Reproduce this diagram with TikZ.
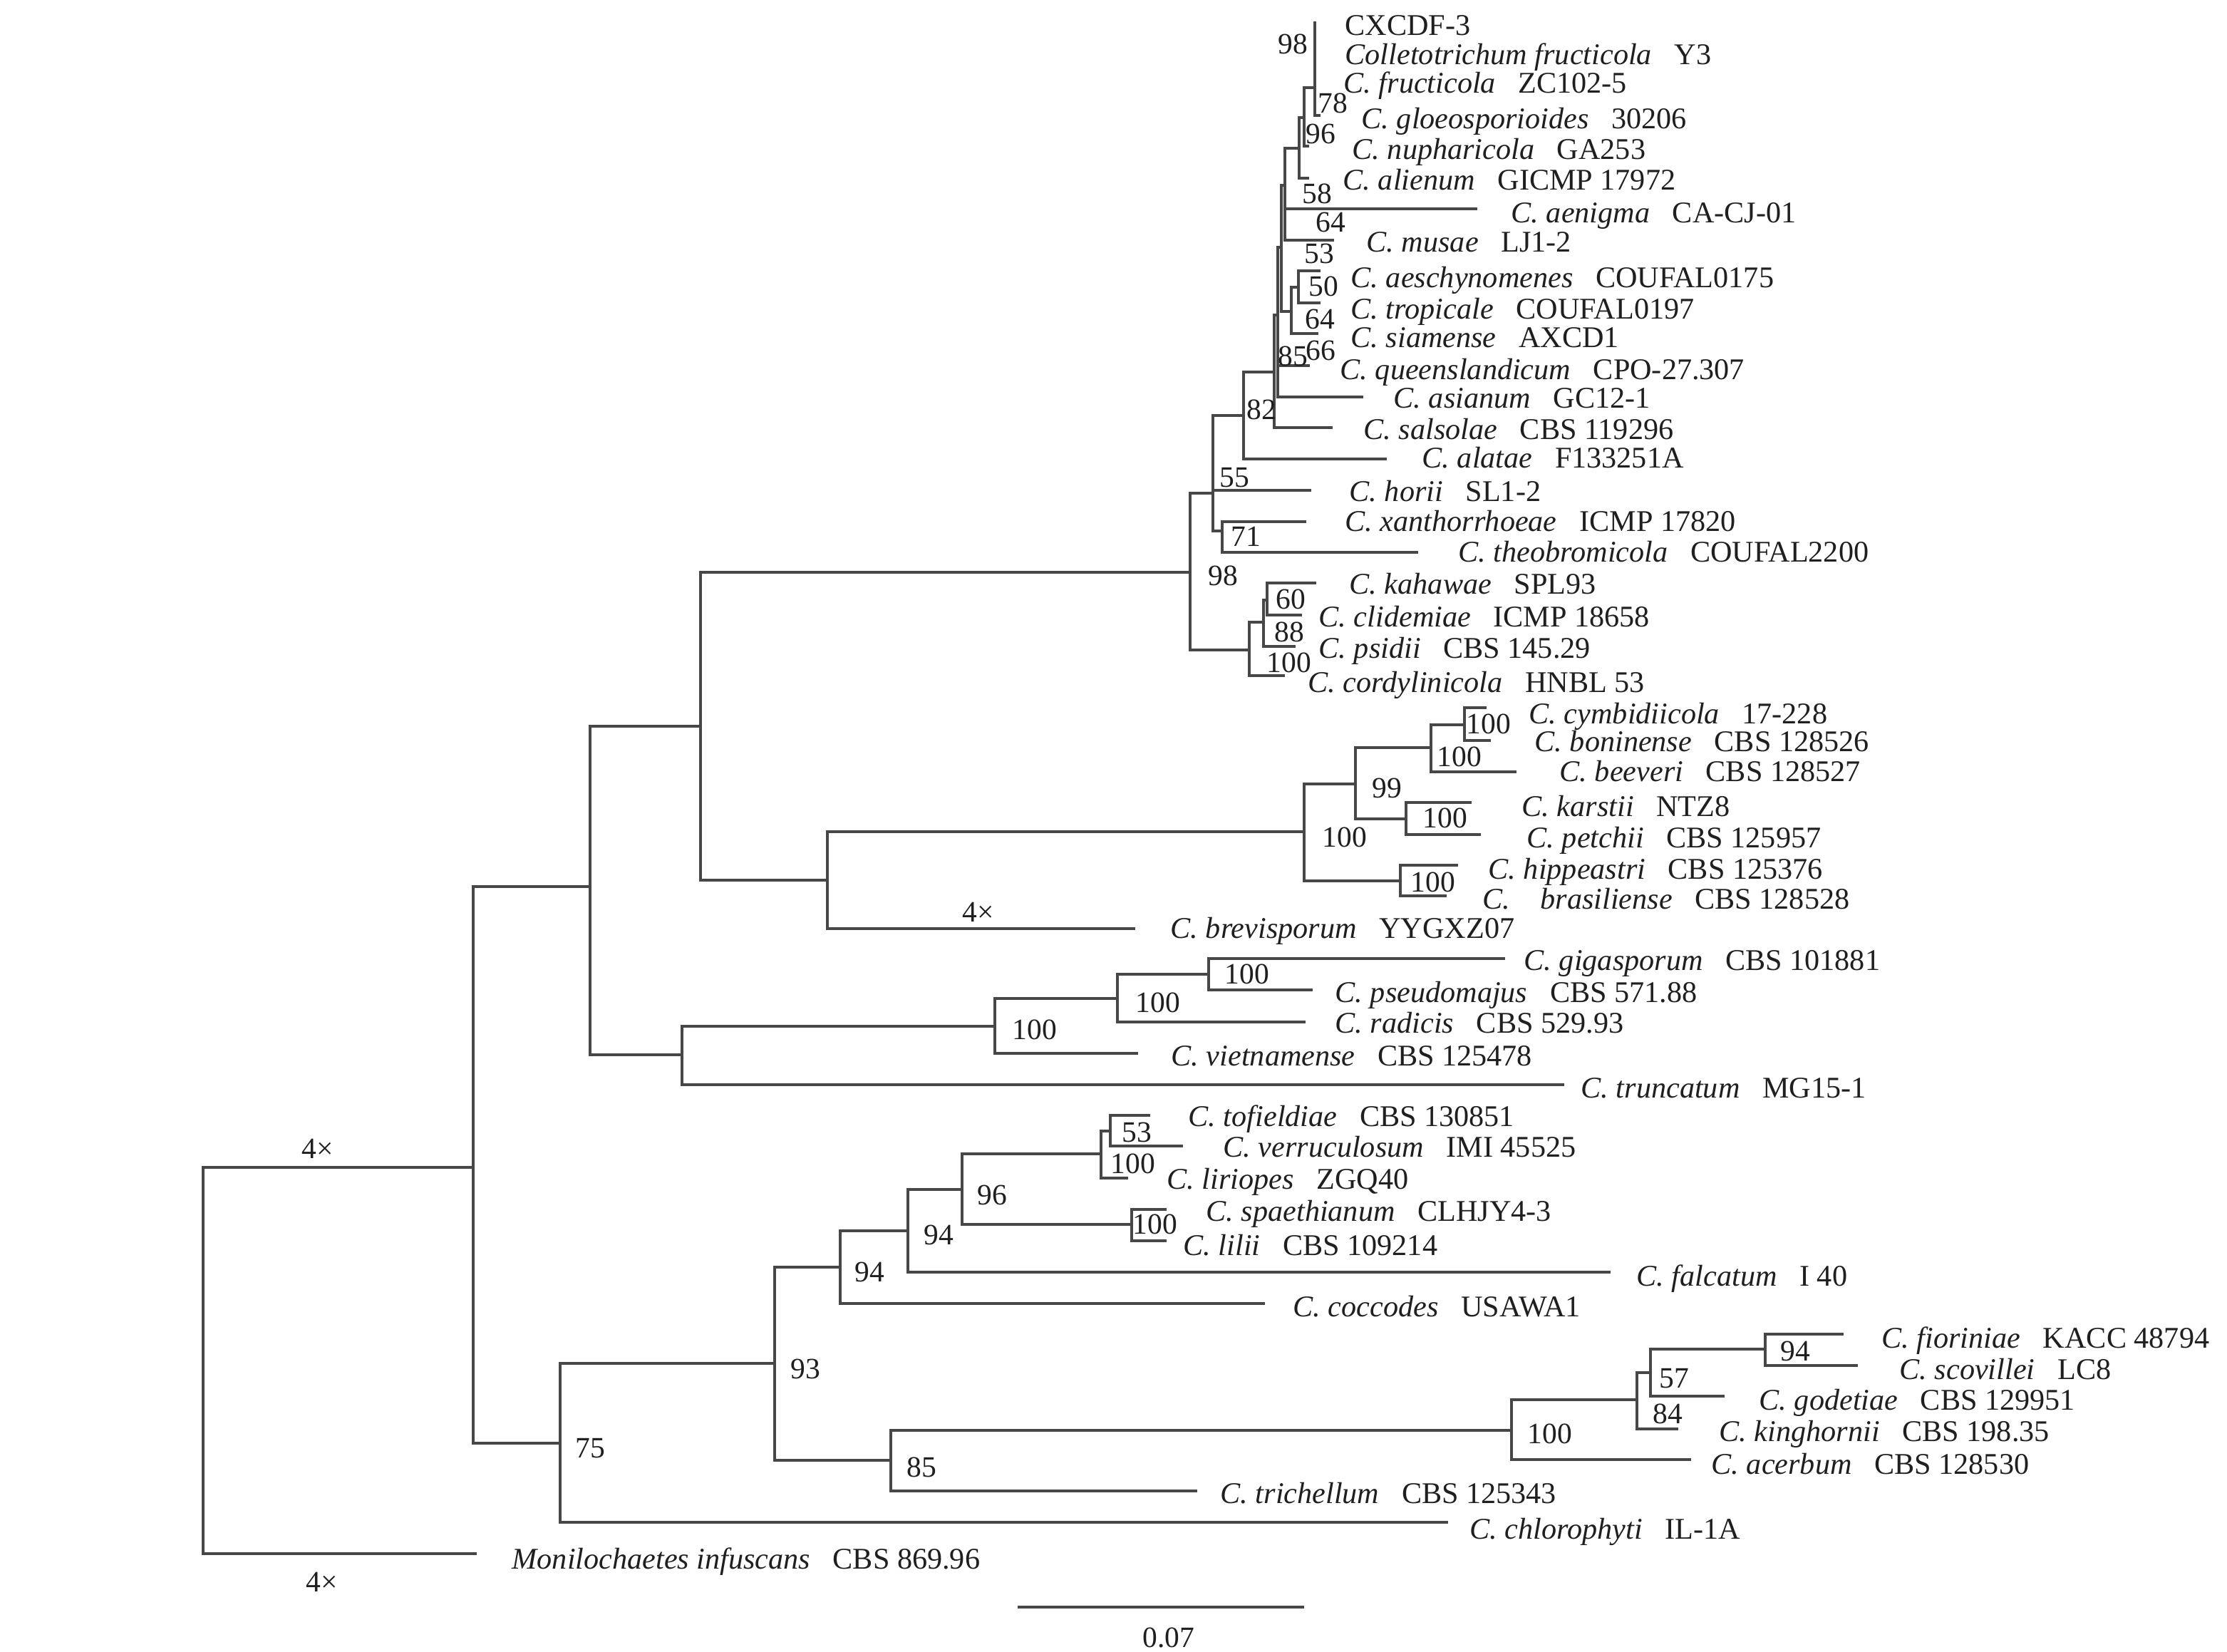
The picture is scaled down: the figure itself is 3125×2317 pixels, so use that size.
\documentclass[tikz,border=0pt]{standalone}
\usepackage{fontspec}
\setmainfont{Liberation Serif}
\newcommand{\taxon}[2]{\textit{#1}\hspace{0.75em}#2}
\begin{document}
\begin{tikzpicture}[x=0.01cm,y=-0.01cm,
  br/.style={draw=black!72,line width=0.9pt},
  lab/.style={anchor=base west,inner sep=0pt,text=black!88,font=\fontsize{12}{14}\selectfont},
  bs/.style={inner sep=0pt,text=black!88,font=\fontsize{11.8}{14}\selectfont}]
\fill[white] (0,0) rectangle (3125,2317);
\useasboundingbox (0,0) rectangle (3125,2317);
% ---------- tips ----------
\coordinate (t01) at (1845,30);
\coordinate (t02) at (1845,78);
\coordinate (t03) at (1845,120);
\coordinate (t04) at (1853,162);
\coordinate (t05) at (1837,205);
\coordinate (t06) at (1837,250);
\coordinate (t07) at (2073,293);
\coordinate (t08) at (1872,337);
\coordinate (t09) at (1853,380);
\coordinate (t10) at (1853,425);
\coordinate (t11) at (1850,468);
\coordinate (t12) at (1838,513);
\coordinate (t13) at (1913,557);
\coordinate (t14) at (1870,600);
\coordinate (t15) at (1946,644);
\coordinate (t16) at (1840,688);
\coordinate (t17) at (1833,732);
\coordinate (t18) at (1990,775);
\coordinate (t19) at (1847,818);
\coordinate (t20) at (1827,863);
\coordinate (t21) at (1818,907);
\coordinate (t22) at (1803,948);
\coordinate (t23) at (2086,993);
\coordinate (t24) at (2092,1039);
\coordinate (t25) at (2128,1083);
\coordinate (t26) at (2065,1126);
\coordinate (t27) at (2078,1171);
\coordinate (t28) at (2046,1214);
\coordinate (t29) at (2030,1257);
\coordinate (t30) at (1593,1303);
\coordinate (t31) at (2112,1345);
\coordinate (t32) at (1842,1389);
\coordinate (t33) at (1832,1434);
\coordinate (t34) at (1597,1478);
\coordinate (t35) at (2195,1522);
\coordinate (t36) at (1614,1565);
\coordinate (t37) at (1660,1608);
\coordinate (t38) at (1583,1653);
\coordinate (t39) at (1637,1697);
\coordinate (t40) at (1637,1741);
\coordinate (t41) at (2260,1785);
\coordinate (t42) at (1775,1829);
\coordinate (t43) at (2587,1872);
\coordinate (t44) at (2607,1916);
\coordinate (t45) at (2420,1959);
\coordinate (t46) at (2355,2005);
\coordinate (t47) at (2373,2048);
\coordinate (t48) at (1680,2092);
\coordinate (t49) at (2032,2136);
\coordinate (t50) at (669,2180);
% ---------- internal nodes ----------
\coordinate (K) at (1845,123);
\coordinate (L) at (1830,165);
\coordinate (M) at (1823,208);
\coordinate (N) at (1803,260);
\coordinate (A) at (1798,347);
\coordinate (O) at (1812,437);
\coordinate (P) at (1822,403);
\coordinate (B) at (1793,442);
\coordinate (C) at (1788,522);
\coordinate (D) at (1745,583);
\coordinate (E) at (1702,692);
\coordinate (F) at (1715,745);
\coordinate (G) at (1670,803);
\coordinate (H) at (1753,912);
\coordinate (I) at (1773,873);
\coordinate (J) at (1778,842);
\coordinate (W) at (983,1019);
\coordinate (X) at (1161,1235);
\coordinate (Q) at (1830,1167);
\coordinate (R) at (1902,1100);
\coordinate (S) at (2008,1049);
\coordinate (T) at (2055,1017);
\coordinate (U) at (1973,1149);
\coordinate (V) at (1965,1236);
\coordinate (CC) at (828,1244);
\coordinate (BB) at (957,1480);
\coordinate (Y) at (1396,1440);
\coordinate (Z) at (1568,1401);
\coordinate (AA) at (1696,1367);
\coordinate (DD) at (664,1638);
\coordinate (EE) at (786,2025);
\coordinate (FF) at (1087,1913);
\coordinate (HH) at (1179,1778);
\coordinate (II) at (1274,1727);
\coordinate (JJ) at (1350,1669);
\coordinate (LL) at (1545,1619);
\coordinate (MM) at (1558,1587);
\coordinate (KK) at (1588,1718);
\coordinate (GG) at (1250,2049);
\coordinate (NC) at (2121,2007);
\coordinate (NN) at (2297,1964);
\coordinate (OO) at (2316,1926);
\coordinate (PP) at (2477,1893);
\coordinate (R0) at (285,1900);
% ---------- branches ----------
\draw[br] (K) |- (t01) (K) |- (t04);
\draw[br] (L) |- (K) (L) |- (t05);
\draw[br] (M) |- (L) (M) |- (t06);
\draw[br] (N) |- (M) (N) |- (t07) (N) |- (t08);
\draw[br] (A) |- (N) (A) |- (O);
\draw[br] (O) |- (P) (O) |- (t11);
\draw[br] (P) |- (t09) (P) |- (t10);
\draw[br] (B) |- (A) (B) |- (t12) (B) |- (t13);
\draw[br] (C) |- (B) (C) |- (t14);
\draw[br] (D) |- (C) (D) |- (t15);
\draw[br] (E) |- (D) (E) |- (t16) (E) |- (F);
\draw[br] (F) |- (t17) (F) |- (t18);
\draw[br] (G) |- (E) (G) |- (H);
\draw[br] (H) |- (I) (H) |- (t22);
\draw[br] (I) |- (J) (I) |- (t21);
\draw[br] (J) |- (t19) (J) |- (t20);
\draw[br] (W) |- (G) (W) |- (X);
\draw[br] (X) |- (Q) (X) |- (t30);
\draw[br] (Q) |- (R) (Q) |- (V);
\draw[br] (R) |- (S) (R) |- (U);
\draw[br] (S) |- (T) (S) |- (t25);
\draw[br] (T) |- (t23) (T) |- (t24);
\draw[br] (U) |- (t26) (U) |- (t27);
\draw[br] (V) |- (t28) (V) |- (t29);
\draw[br] (CC) |- (W) (CC) |- (BB);
\draw[br] (BB) |- (Y) (BB) |- (t35);
\draw[br] (Y) |- (Z) (Y) |- (t34);
\draw[br] (Z) |- (AA) (Z) |- (t33);
\draw[br] (AA) |- (t31) (AA) |- (t32);
\draw[br] (DD) |- (CC) (DD) |- (EE);
\draw[br] (EE) |- (FF) (EE) |- (t49);
\draw[br] (FF) |- (HH) (FF) |- (GG);
\draw[br] (HH) |- (II) (HH) |- (t42);
\draw[br] (II) |- (JJ) (II) |- (t41);
\draw[br] (JJ) |- (LL) (JJ) |- (KK);
\draw[br] (LL) |- (MM) (LL) |- (t38);
\draw[br] (MM) |- (t36) (MM) |- (t37);
\draw[br] (KK) |- (t39) (KK) |- (t40);
\draw[br] (GG) |- (NC) (GG) |- (t48);
\draw[br] (NC) |- (NN) (NC) |- (t47);
\draw[br] (NN) |- (OO) (NN) |- (t46);
\draw[br] (OO) |- (PP) (OO) |- (t45);
\draw[br] (PP) |- (t43) (PP) |- (t44);
\draw[br] (R0) |- (DD) (R0) |- (t50);
% ---------- leaf labels ----------
\node[lab] (n01) at (1887,49) {CXCDF-3};
\node[lab] (n02) at (1887,90) {\taxon{Colletotrichum fructicola}{Y3}};
\node[lab] (n03) at (1885,130) {\taxon{C. fructicola}{ZC102-5}};
\node[lab] (n04) at (1910,180) {\taxon{C. gloeosporioides}{30206}};
\node[lab] (n05) at (1897,223) {\taxon{C. nupharicola}{GA253}};
\node[lab] (n06) at (1884,266) {\taxon{C. alienum}{GICMP 17972}};
\node[lab] (n07) at (2120,312) {\taxon{C. aenigma}{CA-CJ-01}};
\node[lab] (n08) at (1917,353) {\taxon{C. musae}{LJ1-2}};
\node[lab] (n09) at (1895,403) {\taxon{C. aeschynomenes}{COUFAL0175}};
\node[lab] (n10) at (1895,447) {\taxon{C. tropicale}{COUFAL0197}};
\node[lab] (n11) at (1895,487) {\taxon{C. siamense}{AXCD1}};
\node[lab] (n12) at (1880,532) {\taxon{C. queenslandicum}{CPO-27.307}};
\node[lab] (n13) at (1955,572) {\taxon{C. asianum}{GC12-1}};
\node[lab] (n14) at (1913,616) {\taxon{C. salsolae}{CBS 119296}};
\node[lab] (n15) at (1995,656) {\taxon{C. alatae}{F133251A}};
\node[lab] (n16) at (1893,703) {\taxon{C. horii}{SL1-2}};
\node[lab] (n17) at (1887,745) {\taxon{C. xanthorrhoeae}{ICMP 17820}};
\node[lab] (n18) at (2046,788) {\taxon{C. theobromicola}{COUFAL2200}};
\node[lab] (n19) at (1893,833) {\taxon{C. kahawae}{SPL93}};
\node[lab] (n20) at (1850,879) {\taxon{C. clidemiae}{ICMP 18658}};
\node[lab] (n21) at (1850,923) {\taxon{C. psidii}{CBS 145.29}};
\node[lab] (n22) at (1835,971) {\taxon{C. cordylinicola}{HNBL 53}};
\node[lab] (n23) at (2145,1015) {\taxon{C. cymbidiicola}{17-228}};
\node[lab] (n24) at (2153,1054) {\taxon{C. boninense}{CBS 128526}};
\node[lab] (n25) at (2188,1096) {\taxon{C. beeveri}{CBS 128527}};
\node[lab] (n26) at (2135,1145) {\taxon{C. karstii}{NTZ8}};
\node[lab] (n27) at (2142,1189) {\taxon{C. petchii}{CBS 125957}};
\node[lab] (n28) at (2088,1233) {\taxon{C. hippeastri}{CBS 125376}};
\node[lab] (n29) at (2080,1275) {\textit{C.}\hspace{12pt}\taxon{brasiliense}{CBS 128528}};
\node[lab] (n30) at (1642,1316) {\taxon{C. brevisporum}{YYGXZ07}};
\node[lab] (n31) at (2138,1361) {\taxon{C. gigasporum}{CBS 101881}};
\node[lab] (n32) at (1873,1406) {\taxon{C. pseudomajus}{CBS 571.88}};
\node[lab] (n33) at (1873,1449) {\taxon{C. radicis}{CBS 529.93}};
\node[lab] (n34) at (1643,1495) {\taxon{C. vietnamense}{CBS 125478}};
\node[lab] (n35) at (2218,1540) {\taxon{C. truncatum}{MG15-1}};
\node[lab] (n36) at (1667,1580) {\taxon{C. tofieldiae}{CBS 130851}};
\node[lab] (n37) at (1716,1623) {\taxon{C. verruculosum}{IMI 45525}};
\node[lab] (n38) at (1637,1668) {\taxon{C. liriopes}{ZGQ40}};
\node[lab] (n39) at (1692,1713) {\taxon{C. spaethianum}{CLHJY4-3}};
\node[lab] (n40) at (1660,1761) {\taxon{C. lilii}{CBS 109214}};
\node[lab] (n41) at (2296,1804) {\taxon{C. falcatum}{I 40}};
\node[lab] (n42) at (1814,1847) {\taxon{C. coccodes}{USAWA1}};
\node[lab] (n43) at (2640,1891) {\taxon{C. fioriniae}{KACC 48794}};
\node[lab] (n44) at (2665,1935) {\taxon{C. scovillei}{LC8}};
\node[lab] (n45) at (2468,1978) {\taxon{C. godetiae}{CBS 129951}};
\node[lab] (n46) at (2412,2022) {\taxon{C. kinghornii}{CBS 198.35}};
\node[lab] (n47) at (2401,2068) {\taxon{C. acerbum}{CBS 128530}};
\node[lab] (n48) at (1712,2109) {\taxon{C. trichellum}{CBS 125343}};
\node[lab] (n49) at (2062,2159) {\taxon{C. chlorophyti}{IL-1A}};
\node[lab] (n50) at (718,2201) {\taxon{Monilochaetes infuscans}{CBS 869.96}};
% ---------- support values ----------
\node[bs] (b01) at (1814,62) {98};
\node[bs] (b02) at (1870,145) {78};
\node[bs] (b03) at (1853,188) {96};
\node[bs] (b04) at (1848,272) {58};
\node[bs] (b05) at (1867,312) {64};
\node[bs] (b06) at (1851,356) {53};
\node[bs] (b07) at (1857,402) {50};
\node[bs] (b08) at (1852,448) {64};
\node[bs] (b09) at (1814,500) {85};
\node[bs] (b10) at (1853,492) {66};
\node[bs] (b11) at (1770,575) {82};
\node[bs] (b12) at (1732,670) {55};
\node[bs] (b13) at (1748,753) {71};
\node[bs] (b14) at (1716,808) {98};
\node[bs] (b15) at (1811,841) {60};
\node[bs] (b16) at (1809,887) {88};
\node[bs] (b17) at (1809,930) {100};
\node[bs] (b18) at (2089,1016) {100};
\node[bs] (b19) at (2048,1062) {100};
\node[bs] (b20) at (1946,1106) {99};
\node[bs] (b21) at (2028,1148) {100};
\node[bs] (b22) at (1887,1175) {100};
\node[bs] (b23) at (2011,1238) {100};
\node[bs] (b24) at (1373,1280) {4×};
\node[bs] (b25) at (1750,1367) {100};
\node[bs] (b26) at (1625,1407) {100};
\node[bs] (b27) at (1452,1445) {100};
\node[bs] (b28) at (1595,1589) {53};
\node[bs] (b29) at (1590,1633) {100};
\node[bs] (b30) at (1392,1677) {96};
\node[bs] (b31) at (1621,1718) {100};
\node[bs] (b32) at (1317,1733) {94};
\node[bs] (b33) at (1220,1785) {94};
\node[bs] (b34) at (1130,1921) {93};
\node[bs] (b35) at (1293,2059) {85};
\node[bs] (b36) at (828,2032) {75};
\node[bs] (b37) at (2175,2012) {100};
\node[bs] (b38) at (2340,1984) {84};
\node[bs] (b39) at (2349,1934) {57};
\node[bs] (b40) at (2519,1896) {94};
\node[bs] (b41) at (446,1612) {4×};
\node[bs] (b42) at (452,2220) {4×};
% ---------- scale bar ----------
\coordinate (sb1) at (1428,2255);
\coordinate (sb2) at (1830,2255);
\draw[br] (sb1) -- (sb2);
\node[bs] (sbl) at (1640,2298) {0.07};
\end{tikzpicture}
\end{document}
